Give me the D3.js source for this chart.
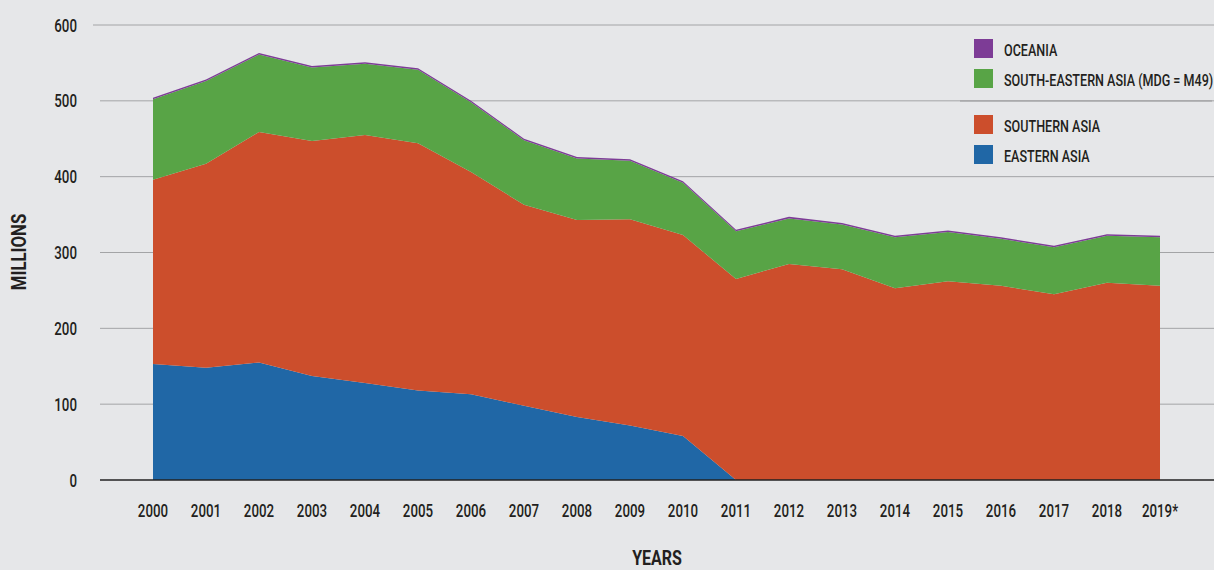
<!DOCTYPE html>
<html>
<head>
<meta charset="utf-8">
<script src="https://cdn.jsdelivr.net/npm/d3@7"></script>
<style>
  body { margin: 0; background: #e6e7e9; }
  text { font-family: Roboto, "Noto Sans", sans-serif; fill: #231f20; }
</style>
</head>
<body>
<div id="container"></div>
<script>
/* DATA */
const years = ["2000","2001","2002","2003","2004","2005","2006","2007","2008","2009",
               "2010","2011","2012","2013","2014","2015","2016","2017","2018","2019*"];
const easternAsia = [153,148,155,137,128,118,113,98,83,72,58,0,0,0,0,0,0,0,0,0];
const southernAsia = [243,269,304,310,327,326,293,265,260,272,265,265,285,278,253,262,256,245,260,256];
const southEasternAsia = [106,109,102,97,94,97,92,85,81,77,69,63,60,59,67,65,62,62,62,64];
const oceania = [2,2,2,2,2,2,2,2,2,2,2,2,2,2,2,2,2,2,2,2];
const yTicks = [0,100,200,300,400,500,600];

const seriesKeys = ["eastern","southern","southeastern","oceania"];
const colors = { eastern: "#2067a6", southern: "#cc4e2c", southeastern: "#58a446", oceania: "#7d3c96" };
const legendItems = [
  { key: "oceania", label: "OCEANIA" },
  { key: "southeastern", label: "SOUTH-EASTERN ASIA (MDG = M49)" },
  { key: "southern", label: "SOUTHERN ASIA" },
  { key: "eastern", label: "EASTERN ASIA" }
];

const table = years.map((y, i) => ({
  year: y,
  eastern: easternAsia[i],
  southern: southernAsia[i],
  southeastern: southEasternAsia[i],
  oceania: oceania[i]
}));

/* CONSTANTS */
const width = 1214, height = 570;
const plotLeft = 100, plotRight = 1214, plotTop = 25, plotBottom = 480;
const squeeze = 0.74;   // condensed look for the labels

const svg = d3.select("#container").append("svg")
  .attr("width", width).attr("height", height);

svg.append("rect").attr("width", width).attr("height", height).attr("fill", "#e6e7e9");

/* SCALES */
const xScale = d3.scalePoint().domain(years).range([153, 1160]);
const yScale = d3.scaleLinear().domain([0, 600]).range([plotBottom, plotTop]);

// gridlines
svg.append("g").selectAll("line")
  .data(yTicks.filter(d => d > 0))
  .join("line")
  .attr("x1", d => d === 600 ? 93 : plotLeft).attr("x2", plotRight)
  .attr("y1", d => yScale(d)).attr("y2", d => yScale(d))
  .attr("stroke", "#a3a4a6").attr("stroke-width", 1);

// stacked areas
const stacked = d3.stack().keys(seriesKeys)(table);

const area = d3.area()
  .x(d => xScale(d.data.year))
  .y0(d => yScale(d[0]))
  .y1(d => yScale(d[1]));

svg.append("g").selectAll("path")
  .data(stacked)
  .join("path")
  .attr("d", area)
  .attr("fill", d => colors[d.key]);

// zero line
svg.append("line")
  .attr("x1", plotLeft).attr("x2", plotRight)
  .attr("y1", yScale(0)).attr("y2", yScale(0))
  .attr("stroke", "#222").attr("stroke-width", 1.5);

// y axis labels
svg.append("g").selectAll("text")
  .data(yTicks)
  .join("text")
  .attr("transform", d => `translate(77,${yScale(d) + 6.5}) scale(${squeeze},1)`)
  .attr("text-anchor", "end")
  .style("font-size", "18px")
  .style("font-weight", 500)
  .text(d => d);

// x axis labels
svg.append("g").selectAll("text")
  .data(years)
  .join("text")
  .attr("transform", d => `translate(${xScale(d)},517) scale(${squeeze},1)`)
  .attr("text-anchor", "middle")
  .style("font-size", "18px")
  .style("font-weight", 500)
  .text(d => d);

// axis titles
svg.append("text")
  .attr("transform", "translate(26,252) rotate(-90) scale(0.8,1)")
  .attr("text-anchor", "middle")
  .style("font-size", "21px").style("font-weight", "bold")
  .text("MILLIONS");

svg.append("text")
  .attr("transform", "translate(657,565) scale(0.8,1)")
  .attr("text-anchor", "middle")
  .style("font-size", "20px").style("font-weight", "bold")
  .text("YEARS");

// legend
const legendTop = [39, 69, 115, 145];
const legend = svg.append("g");
legendItems.forEach((item, i) => {
  legend.append("rect")
    .attr("x", 974).attr("y", legendTop[i])
    .attr("width", 19).attr("height", 19)
    .attr("fill", colors[item.key]);
  legend.append("text")
    .attr("transform", `translate(1004,${legendTop[i] + 17}) scale(${squeeze},1)`)
    .style("font-size", "17px")
    .style("font-weight", 500)
    .text(item.label);
});
legend.append("line")
  .attr("x1", 960).attr("x2", 1212)
  .attr("y1", 101).attr("y2", 101)
  .attr("stroke", "#9a9b9d").attr("stroke-width", 1);
</script>
</body>
</html>
